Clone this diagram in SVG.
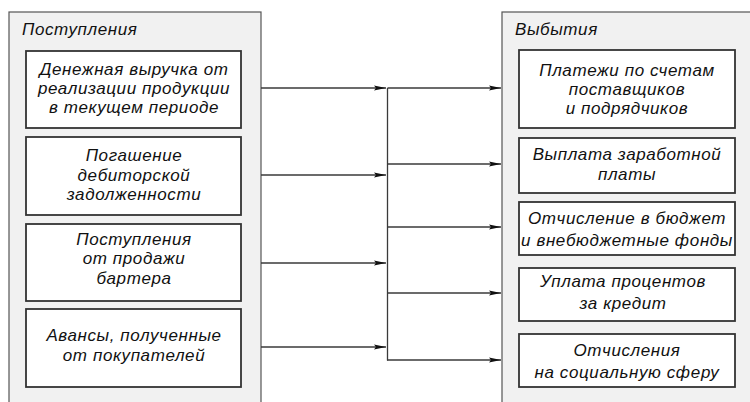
<svg xmlns="http://www.w3.org/2000/svg" width="750" height="402" viewBox="0 0 750 402">
<defs>
<style>
.panel{fill:#f1f1f1;stroke:#555;stroke-width:1.2}
.box{fill:#fff;stroke:#333;stroke-width:1.8}
.t{font-family:"Liberation Sans","DejaVu Sans",sans-serif;font-style:italic;font-size:17px;letter-spacing:0.6px;fill:#111;text-anchor:middle}
.title{font-family:"Liberation Sans","DejaVu Sans",sans-serif;font-style:italic;font-size:17px;letter-spacing:0.6px;fill:#111}
.ln{stroke:#3a3a3a;stroke-width:1.3;fill:none}
</style>
<marker id="arr" markerUnits="userSpaceOnUse" markerWidth="13" markerHeight="7" refX="12" refY="3.5" orient="auto">
<path d="M0,1 L12,3.5 L0,6 L2,3.5 z" fill="#111"/>
</marker>
</defs>
<rect width="750" height="402" fill="#fff"/>
<g id="panel-in">
<rect class="panel" x="9" y="12" width="252" height="400"/>
<text class="title" x="22" y="35">Поступления</text>
</g>
<g id="panel-out">
<rect class="panel" x="502" y="12" width="260" height="400"/>
<text class="title" x="515" y="35">Выбытия</text>
</g>
<g id="connectors">
<line class="ln" x1="261" y1="88" x2="386" y2="88" marker-end="url(#arr)"/>
<line class="ln" x1="261" y1="175" x2="386" y2="175" marker-end="url(#arr)"/>
<line class="ln" x1="261" y1="263" x2="386" y2="263" marker-end="url(#arr)"/>
<line class="ln" x1="261" y1="347" x2="386" y2="347" marker-end="url(#arr)"/>
<line class="ln" x1="387.5" y1="88" x2="387.5" y2="360.5"/>
<line class="ln" x1="387.5" y1="88" x2="501" y2="88" marker-end="url(#arr)"/>
<line class="ln" x1="387.5" y1="164" x2="501" y2="164" marker-end="url(#arr)"/>
<line class="ln" x1="387.5" y1="227" x2="501" y2="227" marker-end="url(#arr)"/>
<line class="ln" x1="387.5" y1="293" x2="501" y2="293" marker-end="url(#arr)"/>
<line class="ln" x1="387" y1="360" x2="501" y2="360" marker-end="url(#arr)"/>
</g>
<g id="in1">
<rect class="box" x="26" y="51" width="215" height="77"/>
<text class="t" x="134" y="75">Денежная выручка от</text>
<text class="t" x="134" y="94">реализации продукции</text>
<text class="t" x="134" y="113">в текущем периоде</text>
</g>
<g id="in2">
<rect class="box" x="26" y="137" width="215" height="78"/>
<text class="t" x="134" y="161">Погашение</text>
<text class="t" x="134" y="181">дебиторской</text>
<text class="t" x="134" y="200">задолженности</text>
</g>
<g id="in3">
<rect class="box" x="26" y="224" width="215" height="77"/>
<text class="t" x="134" y="245">Поступления</text>
<text class="t" x="134" y="264">от продажи</text>
<text class="t" x="134" y="284">бартера</text>
</g>
<g id="in4">
<rect class="box" x="26" y="309" width="215" height="78"/>
<text class="t" x="134" y="341">Авансы, полученные</text>
<text class="t" x="134" y="361">от покупателей</text>
</g>
<g id="out1">
<rect class="box" x="519" y="50" width="216" height="78"/>
<text class="t" x="627" y="76">Платежи по счетам</text>
<text class="t" x="627" y="95">поставщиков</text>
<text class="t" x="627" y="114">и подрядчиков</text>
</g>
<g id="out2">
<rect class="box" x="519" y="138" width="216" height="55"/>
<text class="t" x="627" y="160">Выплата заработной</text>
<text class="t" x="627" y="180">платы</text>
</g>
<g id="out3">
<rect class="box" x="519" y="202" width="216" height="53"/>
<text class="t" x="627" y="224">Отчисление в бюджет</text>
<text class="t" x="627" y="246">и внебюджетные фонды</text>
</g>
<g id="out4">
<rect class="box" x="519" y="268" width="216" height="53"/>
<text class="t" x="623" y="287">Уплата процентов</text>
<text class="t" x="623" y="309">за кредит</text>
</g>
<g id="out5">
<rect class="box" x="519" y="334" width="216" height="53"/>
<text class="t" x="627" y="356">Отчисления</text>
<text class="t" x="627" y="378">на социальную сферу</text>
</g>
</svg>
